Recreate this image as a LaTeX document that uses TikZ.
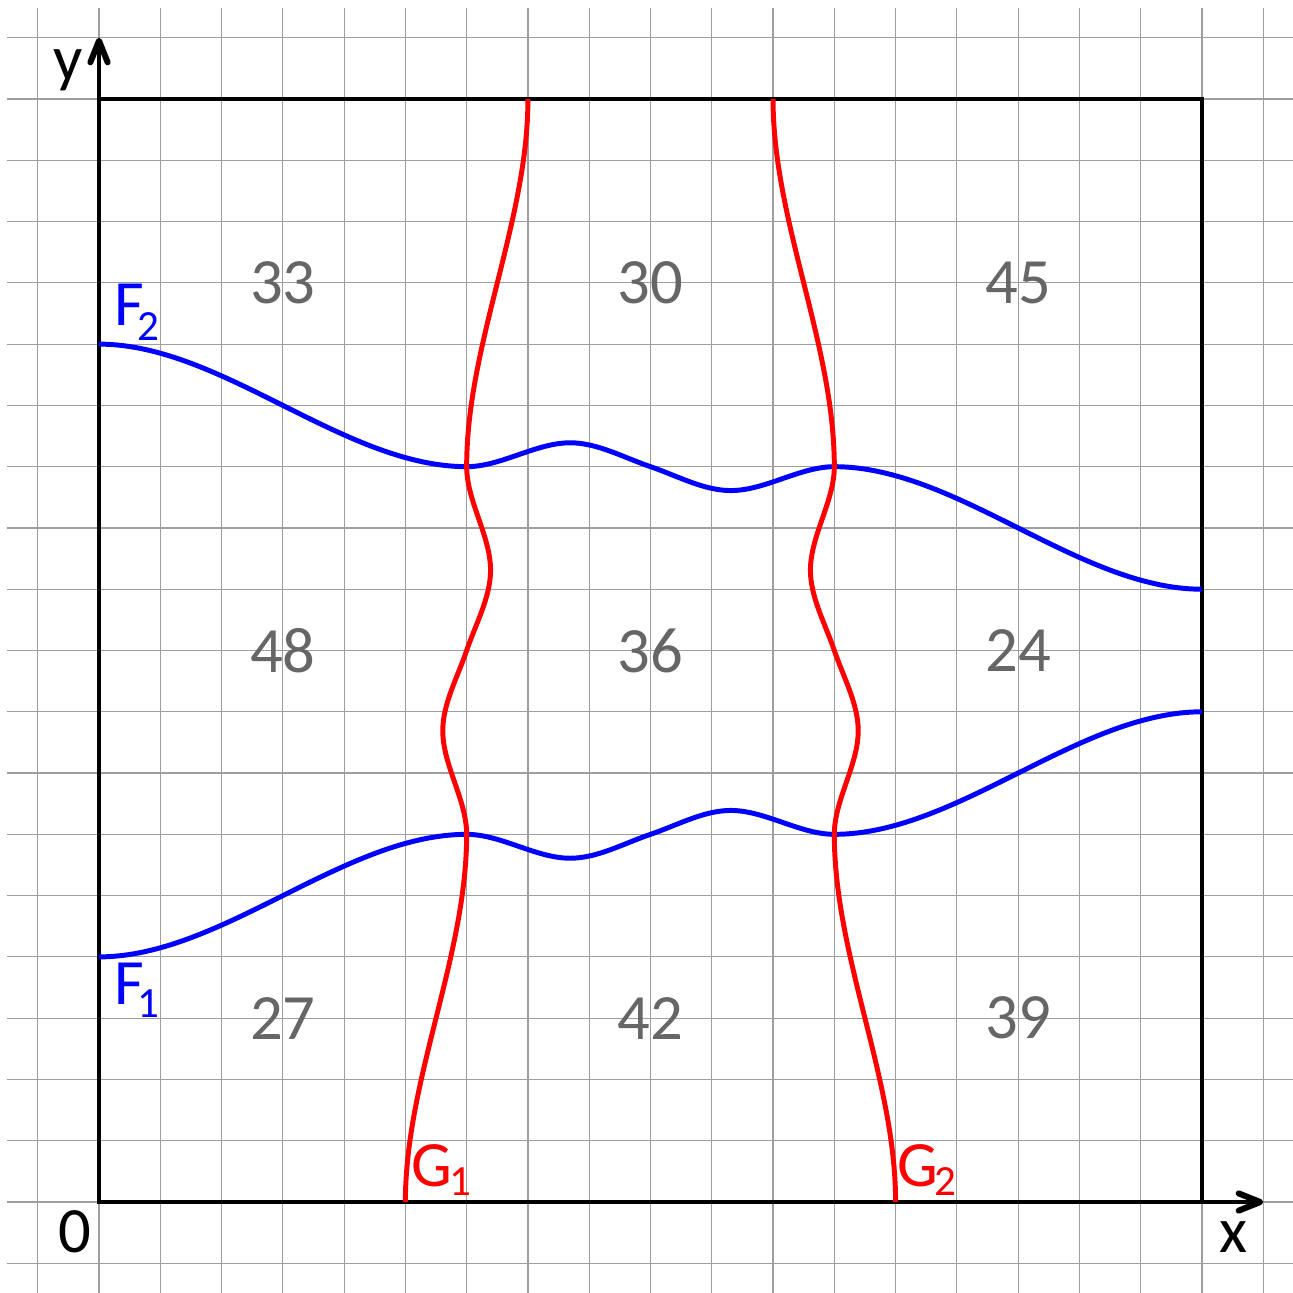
\documentclass[tikz,border=0pt]{standalone}
\usepackage{fontspec}
\setmainfont{Carlito}
\usetikzlibrary{arrows.meta}
\newcommand\mysub[3]{\kern#1\raisebox{-#2}{\fontsize{20}{20}\selectfont #3}}
\begin{document}
\begin{tikzpicture}[
  >={Straight Barb[length=10pt,width=8pt,line width=2.8pt,round]},
  gridline/.style={draw=black!38, line width=0.55pt},
  axisline/.style={line width=2.3pt},
  fcurve/.style={draw=blue, line width=2.3pt},
  gcurve/.style={draw=red, line width=2.3pt},
  num/.style={text=black!60, font=\fontsize{30}{36}\selectfont, inner sep=0pt},
  lbl/.style={text=black, font=\fontsize{30}{36}\selectfont, inner sep=0pt},
  flbl/.style={text=blue, font=\fontsize{30}{36}\selectfont, inner sep=0pt, anchor=base west},
  glbl/.style={text=red, font=\fontsize{30}{36}\selectfont, inner sep=0pt, anchor=base west},
]
\useasboundingbox (-1.6156,-1.485) rectangle (19.485,19.616);
\fill[white] (-1.6156,-1.485) rectangle (19.485,19.616);
\draw[gridline] (-1.5,-1.5) grid (19.48,19.48);

% frame and axes
\draw[axisline] (0,18) -- (18,18) -- (18,0);
\draw[axisline, line join=miter, <->] (0,19) -- (0,0) -- (19,0);

% F curves
\draw[fcurve] (0,4) .. controls (2,4) and (4,6) .. (6,6)
  .. controls (6.56,6) and (7.13,5.61) .. (7.69,5.61)
  .. controls (8.13,5.61) and (8.56,5.85) .. (9,6)
  .. controls (9.44,6.15) and (9.87,6.39) .. (10.31,6.39)
  .. controls (10.87,6.39) and (11.44,6) .. (12,6)
  .. controls (14,6) and (16,8) .. (18,8);
\draw[fcurve] (0,14) .. controls (2,14) and (4,12) .. (6,12)
  .. controls (6.56,12) and (7.13,12.39) .. (7.69,12.39)
  .. controls (8.13,12.39) and (8.56,12.15) .. (9,12)
  .. controls (9.44,11.85) and (9.87,11.61) .. (10.31,11.61)
  .. controls (10.87,11.61) and (11.44,12) .. (12,12)
  .. controls (14,12) and (16,10) .. (18,10);

% G curves
\draw[gcurve] (5,0) .. controls (5,2) and (6,4) .. (6,6)
  .. controls (6,6.56) and (5.61,7.13) .. (5.61,7.69)
  .. controls (5.61,8.13) and (5.85,8.56) .. (6,9)
  .. controls (6.15,9.44) and (6.39,9.87) .. (6.39,10.31)
  .. controls (6.39,10.87) and (6,11.44) .. (6,12)
  .. controls (6,14) and (7,16) .. (7,18);
\draw[gcurve] (13,0) .. controls (13,2) and (12,4) .. (12,6)
  .. controls (12,6.56) and (12.39,7.13) .. (12.39,7.69)
  .. controls (12.39,8.13) and (12.15,8.56) .. (12,9)
  .. controls (11.85,9.44) and (11.61,9.87) .. (11.61,10.31)
  .. controls (11.61,10.87) and (12,11.44) .. (12,12)
  .. controls (12,14) and (11,16) .. (11,18);

% region numbers
\node[num] (n33) at (3,15) {33};
\node[num] (n30) at (9,15) {30};
\node[num] (n45) at (15,15) {45};
\node[num] (n48) at (3,9) {48};
\node[num] (n36) at (9,9) {36};
\node[num] (n24) at (15,9) {24};
\node[num] (n27) at (3,3) {27};
\node[num] (n42) at (9,3) {42};
\node[num] (n39) at (15,3) {39};

% axis labels
\node[lbl] (ylab) at (-0.51,18.47) {y};
\node[lbl] (xlab) at (18.52,-0.57) {x};
\node[lbl] (olab) at (-0.39,-0.49) {0};

% curve labels
\node[flbl] (F2) at (0.24,14.31) {F\mysub{-3pt}{7pt}{2}};
\node[flbl] (F1) at (0.24,3.215) {F\mysub{-3pt}{6pt}{1}};
\node[glbl] (G1) at (5.10,0.25) {G\mysub{-1.5pt}{4.2pt}{1}};
\node[glbl] (G2) at (13.02,0.25) {G\mysub{-1.5pt}{4.2pt}{2}};
\end{tikzpicture}
\end{document}
